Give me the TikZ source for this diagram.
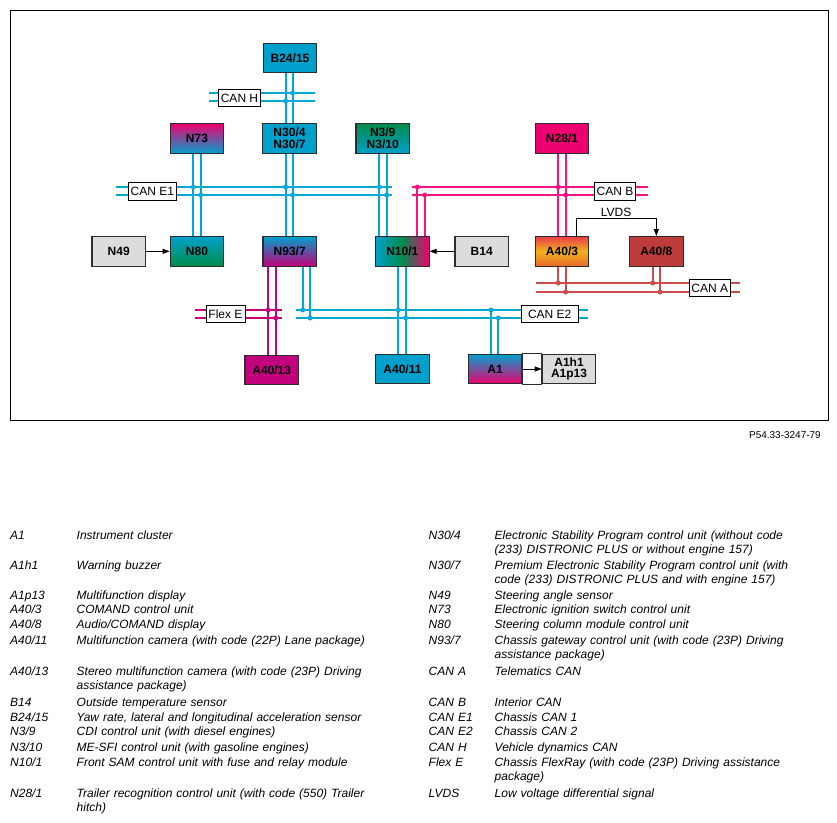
\documentclass[tikz,border=0pt]{standalone}
\usepackage{fontspec}
\setmainfont{Liberation Sans}
\usetikzlibrary{arrows.meta}

\definecolor{cancyan}{RGB}{0,168,214}
\definecolor{boxcyan}{RGB}{0,160,204}
\definecolor{canpink}{RGB}{250,20,128}
\definecolor{boxpink}{RGB}{238,0,112}
\definecolor{flexmag}{RGB}{195,0,125}
\definecolor{boxgreen}{RGB}{0,140,75}
\definecolor{canred}{RGB}{205,75,75}
\definecolor{boxred}{RGB}{190,60,60}
\definecolor{boxgray}{RGB}{220,220,220}
\definecolor{edgegray}{RGB}{45,45,45}
\definecolor{cmdtop}{RGB}{235,60,75}
\definecolor{cmdmid}{RGB}{240,178,28}
\definecolor{cmdbot}{RGB}{232,105,45}

\begin{document}
\begin{tikzpicture}[x=1pt,y=-1pt,>={Triangle[length=7pt,width=5pt]}]
    % Define styles
    \tikzstyle{ecu}=[draw=edgegray,line width=1.1pt,minimum width=53.5pt,minimum height=29.5pt,inner sep=0pt,align=center,font=\fontsize{12}{11.7}\selectfont\bfseries]
    \tikzstyle{cyanecu}=[ecu,fill=boxcyan]
    \tikzstyle{grayecu}=[ecu,fill=boxgray]
    \tikzstyle{buslabel}=[draw=black,line width=0.9pt,fill=white,inner xsep=2.5pt,inner ysep=0pt,minimum height=17.5pt,font=\fontsize{12}{12}\selectfont]
    \tikzstyle{bus}=[line width=2pt]
    \tikzstyle{sig}=[black,line width=0.9pt,->]
    \tikzstyle{legend}=[anchor=base west,inner sep=0pt,text width=330pt,align=left,font=\fontsize{12}{14.3}\selectfont\itshape]

    \useasboundingbox (0,0) rectangle (837,822);
    \draw[line width=1pt] (10,10) rectangle (828,420);

    % Top row
    \node[cyanecu] (b2415) at (290,58) {B24/15};
    \node[ecu,top color=boxpink,bottom color=boxcyan] (n73) at (197,138.5) {N73};
    \node[cyanecu] (n30) at (289.5,138.5) {N30/4\\N30/7};
    \node[ecu,top color=boxgreen,bottom color=boxcyan] (n39) at (382.7,138.5) {N3/9\\N3/10};
    \node[ecu,fill=boxpink] (n281) at (562,138.5) {N28/1};

    % Middle row
    \node[grayecu] (n49) at (118.7,251.3) {N49};
    \node[ecu,top color=boxcyan,bottom color=boxgreen] (n80) at (197,251.3) {N80};
    \node[ecu,top color=boxcyan,bottom color=flexmag] (n937) at (289.7,251.3) {N93/7};
    \node[ecu,left color=boxcyan,right color=boxpink,middle color=boxgreen] (n101) at (402.3,251.3) {N10/1};
    \node[grayecu] (b14) at (481.7,251.3) {B14};
    \node[ecu,top color=cmdtop,bottom color=cmdbot,middle color=cmdmid] (a403) at (562,251.3) {A40/3};
    \node[ecu,fill=boxred] (a408) at (656.3,251.3) {A40/8};

    % Bottom row
    \node[ecu,fill=flexmag] (a4013) at (271.7,370) {A40/13};
    \node[cyanecu] (a4011) at (402.5,369) {A40/11};
    \node[ecu,top color=boxcyan,bottom color=boxpink] (a1) at (495,369) {A1};
    \node[grayecu] (a1h1) at (569,369) {A1h1\\A1p13};

    % Bus wires (west x / east x / upper y / lower y)
    \foreach \xa/\xb/\ya/\yb/\c in {209/315/93/101/cancyan, 116/392/187/195/cancyan,
        412/648/187/195/canpink, 536/740/283/292/canred,
        195/282/310/318/flexmag, 296/588/310/318/cancyan} {
        \draw[bus,\c] (\xa,\ya) -- (\xb,\ya);
        \draw[bus,\c] (\xa,\yb) -- (\xb,\yb);
    }

    % Junction points
    \coordinate (h1) at (292.7,93);   \coordinate (h2) at (285.7,101);
    \coordinate (e1a) at (193.3,187); \coordinate (e1b) at (200.7,195);
    \coordinate (e1c) at (285.7,187); \coordinate (e1d) at (292.7,195);
    \coordinate (e1e) at (379.3,187); \coordinate (e1f) at (386.7,195);
    \coordinate (b1) at (417.3,187);  \coordinate (b2) at (424.7,195);
    \coordinate (b3) at (558.3,187);  \coordinate (b4) at (565.7,195);
    \coordinate (ca1) at (558.3,283); \coordinate (ca2) at (565.7,292);
    \coordinate (ca3) at (652.7,283); \coordinate (ca4) at (660,292);
    \coordinate (f1) at (268.3,310);  \coordinate (f2) at (275.7,318);
    \coordinate (e2a) at (302.7,310); \coordinate (e2b) at (310,318);
    \coordinate (e2c) at (398.3,310); \coordinate (e2d) at (405.7,318);
    \coordinate (e2e) at (491,310);   \coordinate (e2f) at (498.3,318);

    % Wires running from unit to unit across a bus
    \foreach \d/\f/\t/\c in {h1/b2415/n30/cancyan,h2/b2415/n30/cancyan,
        e1a/n73/n80/cancyan,e1b/n73/n80/cancyan,e1c/n30/n937/cancyan,e1d/n30/n937/cancyan,
        e1e/n39/n101/cancyan,e1f/n39/n101/cancyan,b3/n281/a403/canpink,b4/n281/a403/canpink,
        f1/n937/a4013/flexmag,f2/n937/a4013/flexmag,e2c/n101/a4011/cancyan,e2d/n101/a4011/cancyan} {
        \draw[bus,\c] (\f.south -| \d) -- (\t.north -| \d);
    }
    % Wires ending on a bus
    \foreach \d/\n/\a/\c in {b1/n101/north/canpink,b2/n101/north/canpink,
        ca1/a403/south/canred,ca2/a403/south/canred,ca3/a408/south/canred,ca4/a408/south/canred,
        e2a/n937/south/cancyan,e2b/n937/south/cancyan,e2e/a1/north/cancyan,e2f/a1/north/cancyan} {
        \draw[bus,\c] (\n.\a -| \d) -- (\d);
    }
    \foreach \d/\c in {h1/cancyan,h2/cancyan,e1a/cancyan,e1b/cancyan,e1c/cancyan,e1d/cancyan,
        e1e/cancyan,e1f/cancyan,b1/canpink,b2/canpink,b3/canpink,b4/canpink,
        ca1/canred,ca2/canred,ca3/canred,ca4/canred,f1/flexmag,f2/flexmag,
        e2a/cancyan,e2b/cancyan,e2c/cancyan,e2d/cancyan,e2e/cancyan,e2f/cancyan} {
        \fill[\c] (\d) circle (2.5pt);
    }

    % Bus labels
    \node[buslabel] (canh) at (239.5,98) {CAN H};
    \node[buslabel] (cane1) at (152.3,191.5) {CAN E1};
    \node[buslabel] (canb) at (615,191.5) {CAN B};
    \node[buslabel] (cana) at (709.8,288) {CAN A};
    \node[buslabel] (flexe) at (225.5,314) {Flex E};
    \node[buslabel,minimum width=57pt] (cane2) at (549.7,314) {CAN E2};

    % Signal lines
    \draw[sig] (n49) -- (n80);
    \draw[sig] (b14) -- (n101);
    \draw[sig] ([xshift=14pt]a403.north) -- ++(0,-17.7) -| (a408.north)
        node[pos=0.25,above=1.5pt,inner sep=0pt,font=\fontsize{12}{12}\selectfont] (lvds) {LVDS};
    \draw[edgegray,line width=1.1pt] (a1.north east) rectangle (a1h1.south west);
    \draw[sig] (a1) -- (a1h1);

    \node[anchor=base east,inner sep=0pt,font=\fontsize{10}{12}\selectfont] (figno) at (821,438) {P54.33-3247-79};

    % Legend
    \foreach \y/\lc/\lt/\rc/\rt [count=\i] in {
        539/A1/{Instrument cluster}/{N30/4}/{Electronic Stability Program control unit (without code\\(233) DISTRONIC PLUS or without engine 157)},
        569/A1h1/{Warning buzzer}/{N30/7}/{Premium Electronic Stability Program control unit (with\\code (233) DISTRONIC PLUS and with engine 157)},
        599/A1p13/{Multifunction display}/N49/{Steering angle sensor},
        613.5/{A40/3}/{COMAND control unit}/N73/{Electronic ignition switch control unit},
        628.5/{A40/8}/{Audio/COMAND display}/N80/{Steering column module control unit},
        644/{A40/11}/{Multifunction camera (with code (22P) Lane package)}/{N93/7}/{Chassis gateway control unit (with code (23P) Driving\\assistance package)},
        675/{A40/13}/{Stereo multifunction camera (with code (23P) Driving\\assistance package)}/{CAN A}/{Telematics CAN},
        706/B14/{Outside temperature sensor}/{CAN B}/{Interior CAN},
        721/{B24/15}/{Yaw rate, lateral and longitudinal acceleration sensor}/{CAN E1}/{Chassis CAN 1},
        735.5/{N3/9}/{CDI control unit (with diesel engines)}/{CAN E2}/{Chassis CAN 2},
        751/{N3/10}/{ME-SFI control unit (with gasoline engines)}/{CAN H}/{Vehicle dynamics CAN},
        766.5/{N10/1}/{Front SAM control unit with fuse and relay module}/{Flex E}/{Chassis FlexRay (with code (23P) Driving assistance\\package)},
        797.5/{N28/1}/{Trailer recognition control unit (with code (550) Trailer\\hitch)}/LVDS/{Low voltage differential signal}} {
        \node[legend] (lcode\i) at (10,\y) {\lc};
        \node[legend] (ltext\i) at (76.5,\y) {\lt};
        \node[legend] (rcode\i) at (428.5,\y) {\rc};
        \node[legend] (rtext\i) at (494.5,\y) {\rt};
    }
\end{tikzpicture}
\end{document}
